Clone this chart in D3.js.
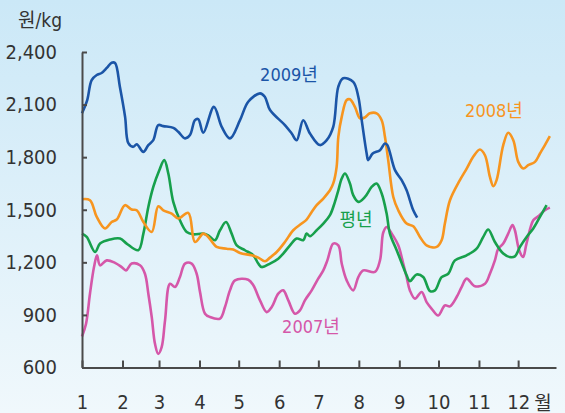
<!DOCTYPE html>
<html>
<head>
<meta charset="utf-8">
<script src="https://cdn.jsdelivr.net/npm/d3@7"></script>
<style>
  html, body { margin: 0; padding: 0; }
  body { width: 565px; height: 413px; overflow: hidden; }
  .axis text { font-family: "Liberation Sans Narrow", "DejaVu Sans Condensed", "Noto Sans CJK KR", sans-serif; font-size: 20px; fill: #333; }
  .axis path, .axis line { stroke: #4a4a4a; stroke-width: 2; }
  .lbl { font-family: "Liberation Sans Narrow", "DejaVu Sans Condensed", "Noto Sans CJK KR", sans-serif; font-size: 18px; }
</style>
</head>
<body>
<script>
// --- data: [day of year, 원/kg] ---
const monthStarts = [0, 31, 59, 90, 120, 151, 181, 212, 243, 273, 304, 334];
const monthLabels = ["1", "2", "3", "4", "5", "6", "7", "8", "9", "10", "11", "12"];
const priceTicks = [600, 900, 1200, 1500, 1800, 2100, 2400];

const y2009 = [[0,2051],[4,2126],[7.4,2240],[11.3,2269],[15,2280],[19,2309],[22.7,2339],[25.3,2337],
  [29,2202],[33,2030],[35.5,1880],[39.3,1859],[41.9,1874],[47,1830],[50.8,1869],[54.6,1897],[58.4,1983],
  [62.3,1977],[70,1967],[73.7,1945],[78.9,1907],[82.7,1926],[86.5,2011],[89,2017],[92.9,1939],[101,2087],
  [107,1973],[113.3,1907],[121,2011],[127.3,2116],[136.3,2164],[140,2145],[144,2069],[155.4,1983],
  [160.6,1935],[164.4,1897],[169.4,2011],[174.6,1935],[182.2,1869],[187.4,1897],[192.4,1973],[196.3,2202],
  [200,2250],[207.7,2230],[211.6,2145],[214.2,2011],[218,1821],[219.2,1783],[222.6,1821],[228.2,1840],
  [232,1878],[233.8,1869],[239.7,1726],[244.8,1669],[248.6,1611],[253.7,1497],[256.7,1455]];

const y2008 = [[0,1560],[6.1,1554],[11.3,1459],[17.6,1393],[22.7,1430],[26.6,1444],[32.9,1526],[38,1501],
  [41.9,1497],[47,1430],[53.4,1373],[58.4,1520],[62.3,1497],[68.7,1478],[73.7,1450],[81.4,1482],[86.5,1316],
  [92.9,1364],[96.7,1345],[103.1,1288],[110.8,1278],[115.8,1273],[121,1253],[129.9,1240],[135,1227],
  [140.1,1206],[144,1227],[149.1,1259],[155.4,1316],[161.8,1383],[168.2,1421],[172,1444],[175.9,1487],
  [179.7,1526],[184.8,1564],[189.9,1611],[192.4,1650],[195,1745],[196.3,1916],[198.9,2030],[202.7,2126],
  [205.2,2130],[209,2087],[212.9,2021],[216.7,2027],[220.5,2050],[225.6,2050],[229.5,2011],[232,1916],
  [234.5,1783],[238.4,1573],[242.2,1497],[248.6,1421],[253.7,1406],[258.8,1345],[263.9,1297],[271.6,1288],
  [275.4,1326],[277.9,1421],[281.8,1554],[289.4,1669],[294.6,1735],[299.6,1802],[304.7,1844],[308.6,1811],
  [312.4,1687],[315,1634],[317.5,1669],[322.6,1869],[326.4,1939],[330.3,1897],[334.1,1773],[338,1735],
  [341.7,1754],[346.9,1773],[350.7,1821],[354.5,1869],[358.3,1920]];

const yNormal = [[0,1364],[3.6,1345],[10,1259],[13.8,1307],[21.4,1330],[29.1,1336],[34.2,1307],[43.1,1269],
  [47,1364],[50.8,1516],[54.6,1630],[59.2,1726],[63,1783],[66.1,1707],[69.9,1545],[75,1440],[80.2,1373],
  [85.2,1360],[92.9,1364],[96.7,1354],[101.8,1326],[105.7,1383],[110.3,1430],[114.6,1364],[118.5,1297],
  [124.8,1269],[131.2,1240],[135,1193],[137.6,1173],[144,1193],[150.3,1221],[154.1,1250],[159.3,1297],
  [164.4,1336],[169.4,1326],[172,1364],[174.6,1349],[179.7,1383],[184.8,1421],[189.9,1469],[193.7,1545],
  [196.3,1611],[198.9,1678],[201.4,1707],[205.2,1650],[207.7,1583],[211.6,1545],[216.7,1573],[221.8,1630],
  [225.6,1650],[229.5,1593],[233.3,1478],[235.8,1364],[241,1269],[246,1173],[248.6,1126],[251.1,1093],
  [256.3,1131],[261.3,1116],[266.5,1036],[270.3,1040],[275.4,1116],[280.5,1135],[285.6,1211],[294.6,1240],
  [302.2,1278],[307.3,1345],[311.1,1387],[316.2,1316],[322.6,1250],[327.7,1230],[331.5,1234],[335.4,1288],
  [340.5,1345],[345.6,1393],[350.7,1459],[355.8,1526]];

const y2007 = [[0,777],[3.1,850],[6.1,1021],[9.2,1173],[11.5,1240],[13.8,1183],[18.9,1211],[25.3,1197],
  [30.4,1173],[33.7,1154],[38,1193],[44.4,1183],[48.2,1135],[50.8,1021],[53.4,888],[55.9,735],[58.4,678],
  [61,716],[63.6,869],[67.4,1078],[71.2,1059],[75,1116],[78.9,1193],[84,1193],[87.8,1135],[90.4,1030],
  [94.2,907],[98,888],[105.7,879],[109.5,945],[113.3,1040],[117.2,1097],[127.3,1101],[131.2,1069],
  [136.3,983],[141.4,916],[145.3,945],[150.3,1021],[154.1,1040],[158,983],[163.1,907],[166.9,926],
  [170.7,983],[175.9,1040],[180.9,1107],[184.8,1154],[187.9,1211],[192.4,1307],[196.3,1297],[198.9,1193],
  [202.7,1097],[207.7,1040],[211.6,1116],[215.4,1154],[224.3,1145],[228.2,1211],[230.7,1370],[233.3,1402],
  [237.2,1364],[242.2,1297],[246,1193],[248.6,1116],[251.1,1040],[255,993],[260.1,1031],[263.9,973],
  [267.8,935],[272.8,897],[277.9,954],[281.8,949],[286.9,1002],[290.7,1059],[294.6,1107],[300.9,1063],
  [308.6,1078],[312.4,1135],[316.2,1211],[318.8,1278],[322.6,1307],[326.4,1364],[329.7,1412],[331.5,1383],
  [334.8,1269],[337.8,1230],[340.4,1307],[345.6,1440],[349.4,1463],[354.5,1497],[358.3,1512]];

const series = [
  { name: "2007년", data: y2007, color: "#d557a9", lx: 311, ly: 333 },
  { name: "평년",   data: yNormal, color: "#17a04c", lx: 356, ly: 226 },
  { name: "2008년", data: y2008, color: "#f7951f", lx: 494, ly: 117 },
  { name: "2009년", data: y2009, color: "#1b55a7", lx: 289, ly: 81 }
];

// --- svg ---
const W = 565, H = 413;
const svg = d3.select("body").append("svg").attr("width", W).attr("height", H);

const grad = svg.append("defs").append("linearGradient")
  .attr("id", "bg").attr("x1", 0).attr("y1", 0).attr("x2", 0).attr("y2", 1);
grad.append("stop").attr("offset", "0%").attr("stop-color", "#cbe8f7");
grad.append("stop").attr("offset", "100%").attr("stop-color", "#f0f8fc");
svg.append("rect").attr("width", W).attr("height", H).attr("fill", "url(#bg)");

// scales
const x = d3.scaleLinear().domain([0, 363]).range([82, 556]);
const y = d3.scaleLinear().domain([600, 2400]).range([367.5, 52]);

// lines
const line = d3.line().x(d => x(d[0])).y(d => y(d[1])).curve(d3.curveCatmullRom.alpha(0.5));
svg.selectAll(".series").data(series).enter().append("path")
  .attr("class", "series")
  .attr("d", d => line(d.data))
  .attr("fill", "none")
  .attr("stroke", d => d.color)
  .attr("stroke-width", 2.6)
  .attr("stroke-linejoin", "round");

// axes
svg.append("g").attr("class", "axis")
  .attr("transform", `translate(0,${y(600)})`)
  .call(d3.axisBottom(x).tickValues(monthStarts).tickFormat((d, i) => monthLabels[i])
    .tickSize(-7).tickSizeOuter(0).tickPadding(27));

svg.append("g").attr("class", "axis")
  .attr("transform", `translate(${x(0)},0)`)
  .call(d3.axisLeft(y).tickValues(priceTicks).tickFormat(d3.format(","))
    .tickSize(-5).tickSizeOuter(0).tickPadding(25));

svg.selectAll(".axis text").attr("stroke", "none");

// unit labels
svg.append("text").attr("class", "lbl").attr("x", 18).attr("y", 27)
  .attr("fill", "#333").style("font-size", "19px").text("원/kg");
svg.append("text").attr("class", "lbl").attr("x", 543).attr("y", 410)
  .attr("text-anchor", "middle").attr("fill", "#333").style("font-size", "19px").text("월");

// series labels
svg.selectAll(".slbl").data(series).enter().append("text")
  .attr("class", "lbl slbl")
  .attr("x", d => d.lx).attr("y", d => d.ly)
  .attr("text-anchor", "middle")
  .attr("fill", d => d.color)
  .text(d => d.name);
</script>
</body>
</html>
